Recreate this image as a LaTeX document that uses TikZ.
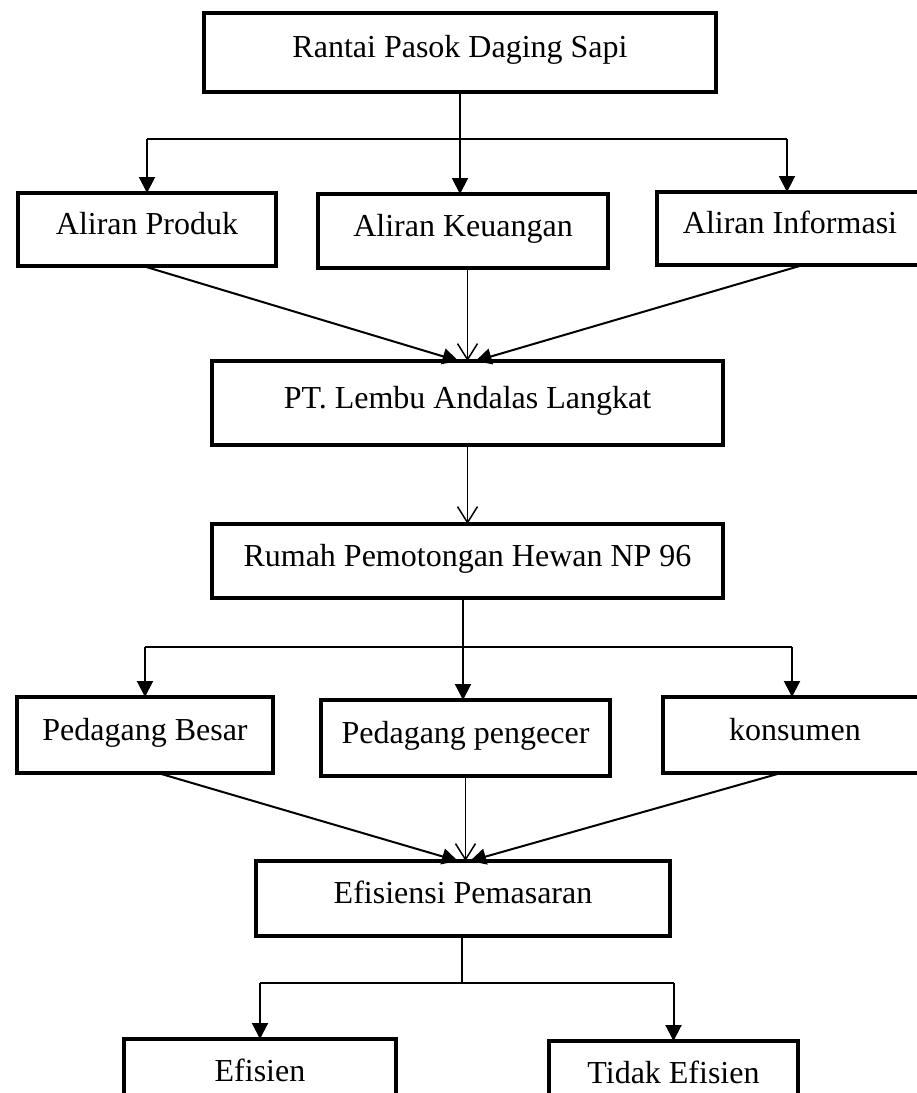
\documentclass[tikz,border=0pt]{standalone}
\usepackage{fontspec}
\setmainfont{Liberation Serif}
\usepackage{tikz}
\usepackage{xcolor}
\usetikzlibrary{arrows.meta,positioning,calc}

\begin{document}
\begin{tikzpicture}[
        x=1pt, y=-1pt,
        box/.style={
          draw,
          line width=4.5pt,
          inner sep=0pt,
          outer sep=0pt,
          text height=24pt,
          text depth=14pt,
          align=center,
          font=\fontsize{32}{38}\selectfont
        },
        stem/.style={
          line width=1.2pt
        },
        arrow/.style={
          -{Triangle[width=16pt,length=16pt]},
          line width=2pt
        },
        barb/.style={
          -{Straight Barb[width=20pt,length=16pt]},
          line width=1.5pt
        }
      ]

      \useasboundingbox (0,0) rectangle (917,1093);

      \node[box, minimum width=512pt, minimum height=79pt] (rantai) at (460,52.5) {Rantai Pasok Daging Sapi};
      \node[box, minimum width=290pt, minimum height=74pt, below=102pt of rantai, xshift=3pt] (keuangan) {Aliran Keuangan};
      \node[box, minimum width=258pt, minimum height=73pt, left=42pt of keuangan, yshift=1.5pt] (produk) {Aliran Produk};
      \node[box, minimum width=266pt, minimum height=73pt, right=49pt of keuangan, yshift=2.5pt] (informasi) {Aliran Informasi};
      \node[box, minimum width=511pt, minimum height=84pt, below=93pt of keuangan, xshift=4.5pt] (pt) {PT. Lembu Andalas Langkat};
      \node[box, minimum width=511pt, minimum height=74pt, below=79pt of pt] (rumah) {Rumah Pemotongan Hewan NP 96};
      \node[box, minimum width=289pt, minimum height=76pt, below=102pt of rumah, xshift=-2pt] (pengecer) {Pedagang pengecer};
      \node[box, minimum width=256pt, minimum height=76pt, left=48pt of pengecer, yshift=3pt] (besar) {Pedagang Besar};
      \node[box, minimum width=264pt, minimum height=76pt, right=53pt of pengecer, yshift=3pt] (konsumen) {konsumen};
      \node[box, minimum width=414pt, minimum height=75pt, below=85pt of pengecer, xshift=-2.5pt] (efisiensi) {Efisiensi Pemasaran};
      \node[box, minimum width=272pt, minimum height=75pt, below=103pt of efisiensi, xshift=-203pt] (efisien) {Efisien};
      \node[box, minimum width=249pt, minimum height=75pt, below=105pt of efisiensi, xshift=210.5pt] (tidak) {Tidak Efisien};

      \coordinate (split1) at ($(rantai.south)+(0,47)$);
      \coordinate (split2) at ($(rumah.south)+(-4.5,49)$);
      \coordinate (split3) at ($(efisiensi.south)+(-1,47)$);

      \draw[stem] (rantai.south) -- (split1);
      \draw[stem] (split1 -| produk.north) -- ($(split1 -| informasi.north)+(-3,0)$);
      \draw[arrow] (split1 -| produk.north) -- (produk.north);
      \draw[arrow] (split1) -- (split1 |- keuangan.north);
      \draw[arrow] ($(split1 -| informasi.north)+(-3,0)$) -- ($(informasi.north)+(-3,0)$);

      \draw[arrow] ($(produk.south)+(-4,0)$) -- ($(pt.north)+(-9,0)$);
      \draw[barb] (keuangan.south -| pt.north) -- (pt.north);
      \draw[arrow] ($(informasi.south)+(13,0)$) -- ($(pt.north)+(8,0)$);

      \draw[barb] (pt.south) -- (rumah.north);

      \draw[stem] (split2 |- rumah.south) -- (split2);
      \draw[stem] (split2 -| besar.north) -- ($(split2 -| konsumen.north)+(-3,0)$);
      \draw[arrow] (split2 -| besar.north) -- (besar.north);
      \draw[arrow] (split2) -- (split2 |- pengecer.north);
      \draw[arrow] ($(split2 -| konsumen.north)+(-3,0)$) -- ($(konsumen.north)+(-3,0)$);

      \draw[arrow] ($(besar.south)+(13,0)$) -- ($(efisiensi.north)+(-5,0)$);
      \draw[barb] (pengecer.south) -- (pengecer.south |- efisiensi.north);
      \draw[arrow] ($(konsumen.south)+(-14,0)$) -- ($(efisiensi.north)+(7,0)$);

      \draw[stem] (split3 |- efisiensi.south) -- (split3);
      \draw[stem] (split3 -| efisien.north) -- (split3 -| tidak.north);
      \draw[arrow] (split3 -| efisien.north) -- (efisien.north);
      \draw[arrow] (split3 -| tidak.north) -- (tidak.north);

      \end{tikzpicture}
\end{document}
